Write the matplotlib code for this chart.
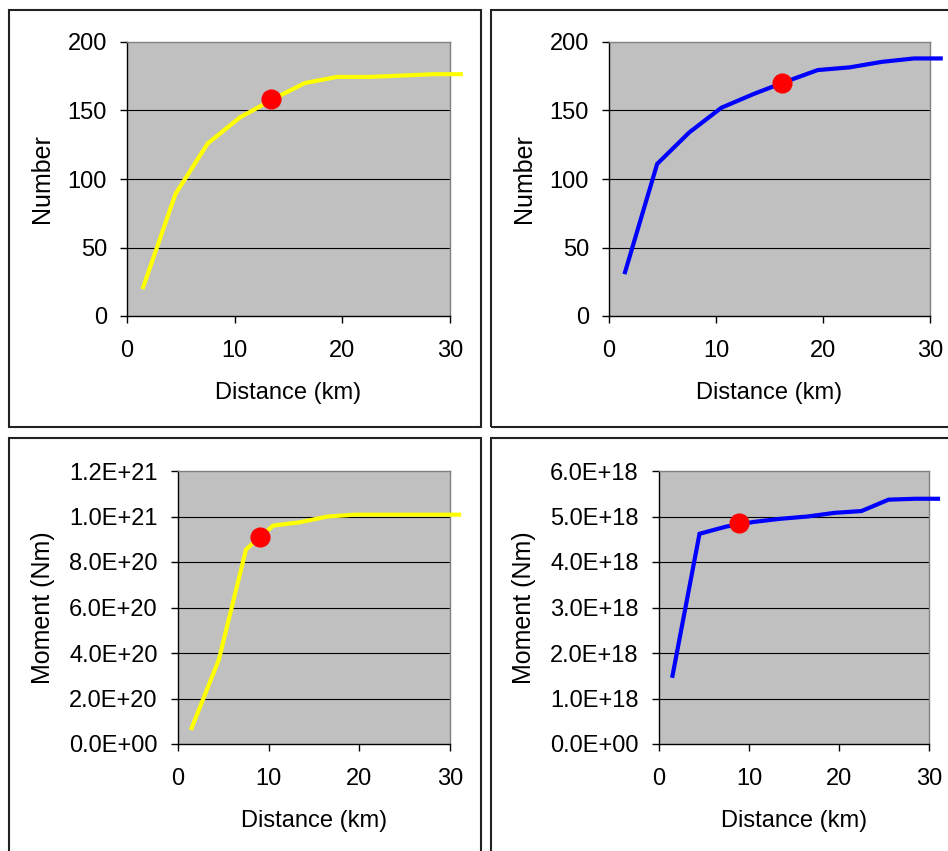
import matplotlib.pyplot as plt
from matplotlib.patches import Rectangle

plt.rcParams['font.family'] = ['Liberation Sans', 'DejaVu Sans']

# shared x positions (km)
distance = [1.5, 4.5, 7.5, 10.5, 13.5, 16.5, 19.5, 22.5, 25.5, 28.5, 31.0]

# top row: cumulative number
number_yellow = [21, 89, 126, 145, 158, 170, 174.5, 174.5, 175.5, 176.5, 176.5]
number_blue = [32, 111, 134, 152, 162, 171, 179.5, 181.5, 185.5, 188, 188]

# bottom row: cumulative moment (Nm)
moment_yellow = [0.07e21, 0.37e21, 0.855e21, 0.96e21, 0.975e21, 1.0e21,
                 1.008e21, 1.008e21, 1.008e21, 1.008e21, 1.008e21]
moment_blue = [1.5e18, 4.62e18, 4.78e18, 4.88e18, 4.95e18, 5.0e18,
               5.08e18, 5.12e18, 5.37e18, 5.39e18, 5.39e18]

# red highlighted points (distance, value)
dot_number_yellow = (13.4, 158.6)
dot_number_blue = (16.2, 170.3)
dot_moment_yellow = (9.0, 0.91e21)
dot_moment_blue = (8.9, 4.85e18)

x_ticks = [0, 10, 20, 30]
number_ticks = [0, 50, 100, 150, 200]
moment_yellow_ticks = [0, 0.2e21, 0.4e21, 0.6e21, 0.8e21, 1.0e21, 1.2e21]
moment_yellow_labels = ["0.0E+00", "2.0E+20", "4.0E+20", "6.0E+20",
                        "8.0E+20", "1.0E+21", "1.2E+21"]
moment_blue_ticks = [0, 1e18, 2e18, 3e18, 4e18, 5e18, 6e18]
moment_blue_labels = ["0.0E+00", "1.0E+18", "2.0E+18", "3.0E+18",
                      "4.0E+18", "5.0E+18", "6.0E+18"]

W, H = 948, 851
FS = 17        # horizontal text
FS_V = 18      # rotated y label
fig = plt.figure(figsize=(W / 100, H / 100), dpi=100)


def px_axes(left, top, right, bottom):
    """Add axes from pixel box (y measured from the top)."""
    return fig.add_axes([left / W, (H - bottom) / H,
                         (right - left) / W, (bottom - top) / H])


def panel_frame(left, top, right, bottom):
    fig.add_artist(Rectangle((left / W, (H - bottom) / H),
                             (right - left) / W, (bottom - top) / H,
                             transform=fig.transFigure, fill=False,
                             edgecolor='#222222', linewidth=1.5))


def style(ax, yticks, ylabels, ylabel, ylabel_px):
    ax.set_facecolor('#c0c0c0')
    ax.set_xlim(0, 30)
    ax.set_ylim(yticks[0], yticks[-1])
    ax.set_xticks(x_ticks)
    ax.set_yticks(yticks)
    ax.set_yticklabels(ylabels)
    for y in yticks[1:-1]:
        ax.axhline(y, color='black', linewidth=0.8, zorder=1)
    for side in ('top', 'right'):
        ax.spines[side].set_color('#808080')
    for side in ('left', 'bottom'):
        ax.spines[side].set_color('black')
    for s in ax.spines.values():
        s.set_linewidth(1.0)
    ax.tick_params(axis='both', direction='out', length=5, width=1,
                   labelsize=FS, colors='black')
    ax.tick_params(axis='x', pad=12)
    ax.tick_params(axis='y', pad=9.5)
    ax.set_xlabel('Distance (km)', fontsize=FS, va='center')
    ax.set_ylabel(ylabel, fontsize=FS_V, va='center')
    bbox = ax.get_position()
    ax.xaxis.set_label_coords(0.5, -77 / (bbox.height * H))
    ax.yaxis.set_label_coords(-ylabel_px / (bbox.width * W), 0.5)


def draw(ax, values, color, dot):
    ax.plot(distance, values, color=color, linewidth=3, clip_on=False,
            zorder=3, solid_joinstyle='miter')
    ax.plot([dot[0]], [dot[1]], 'o', color='#ff0000', markersize=13.5,
            clip_on=False, zorder=4)


panel_frame(9, 10, 481, 427)
panel_frame(491, 10, 960, 427)
panel_frame(9, 438, 481, 870)
panel_frame(491, 438, 960, 870)

ax1 = px_axes(127, 42, 450, 316)
draw(ax1, number_yellow, '#ffff00', dot_number_yellow)
style(ax1, number_ticks, [str(t) for t in number_ticks], 'Number', 85)

ax2 = px_axes(609, 42, 930, 316)
draw(ax2, number_blue, '#0000ff', dot_number_blue)
style(ax2, number_ticks, [str(t) for t in number_ticks], 'Number', 85)

ax3 = px_axes(178, 471, 450, 744)
draw(ax3, moment_yellow, '#ffff00', dot_moment_yellow)
style(ax3, moment_yellow_ticks, moment_yellow_labels, 'Moment (Nm)', 135)

ax4 = px_axes(659, 471, 929, 744)
draw(ax4, moment_blue, '#0000ff', dot_moment_blue)
style(ax4, moment_blue_ticks, moment_blue_labels, 'Moment (Nm)', 135)

fig.savefig('out.png', dpi=100, facecolor='white')
